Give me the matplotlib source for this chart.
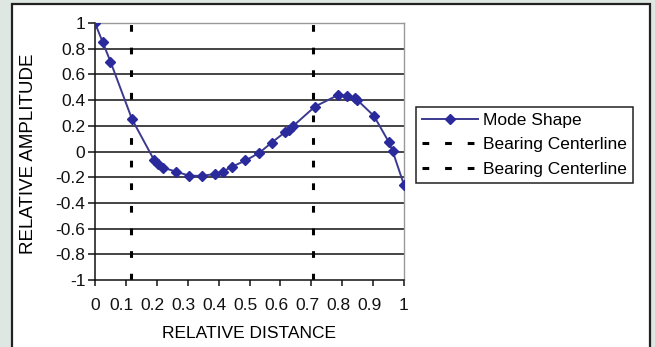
import matplotlib.pyplot as plt
from matplotlib.patches import Rectangle
from matplotlib.transforms import ScaledTranslation

plt.rcParams["font.family"] = ["Liberation Sans", "DejaVu Sans"]

# mode shape
distance = [0.0, 0.025, 0.05, 0.12, 0.192, 0.205, 0.22, 0.262, 0.305, 0.345,
            0.388, 0.413, 0.442, 0.487, 0.532, 0.572, 0.615, 0.628, 0.642,
            0.712, 0.787, 0.815, 0.841, 0.849, 0.903, 0.95, 0.963, 1.0]
amplitude = [1.0, 0.85, 0.70, 0.25, -0.07, -0.10, -0.125, -0.157, -0.188,
             -0.19, -0.175, -0.157, -0.12, -0.07, -0.01, 0.07, 0.15, 0.17,
             0.20, 0.35, 0.44, 0.435, 0.414, 0.40, 0.276, 0.077, 0.004, -0.26]
bearings = [0.118, 0.706]

x_ticks = [i / 10 for i in range(11)]
x_labels = ["0", "0.1", "0.2", "0.3", "0.4", "0.5", "0.6", "0.7", "0.8", "0.9", "1"]
y_ticks = [-1, -0.8, -0.6, -0.4, -0.2, 0, 0.2, 0.4, 0.6, 0.8, 1]
y_labels = ["-1", "-0.8", "-0.6", "-0.4", "-0.2", "0", "0.2", "0.4", "0.6", "0.8", "1"]

W, H = 655, 347
fig = plt.figure(figsize=(W / 100, H / 100), dpi=100)
fig.patch.set_facecolor("#dfe7e3")

# white framed panel behind the axes
fig.patches.append(Rectangle((12 / W, -0.05), (650 - 12) / W, 1.05 - 4 / H,
                             transform=fig.transFigure, facecolor="white",
                             edgecolor="#222222", lw=1.6, zorder=-10))

ax = fig.add_axes([95 / W, 1 - 280 / H, (404 - 95) / W, (280 - 23) / H])
ax.set_facecolor("white")

for y in y_ticks[1:]:
    ax.axhline(y, color="#111111", lw=1.1, zorder=1)

dash = (0, (2.2, 5.2))
for b in bearings:
    ax.plot([b, b], [-1, 1], color="black", lw=2.2, linestyle=dash, zorder=2,
            label="Bearing Centerline")

ax.plot(distance, amplitude, color="#3c3a8f", lw=1.4, marker="D",
        markersize=5.5, markerfacecolor="#2a2a9c", markeredgecolor="#2a2a9c",
        zorder=3, label="Mode Shape")

ax.set_xlim(0, 1)
ax.set_ylim(-1, 1)
ax.set_xticks(x_ticks)
ax.set_xticklabels(x_labels)
ax.set_yticks(y_ticks)
ax.set_yticklabels(y_labels)
ax.tick_params(axis="both", labelsize=12.5, length=5, width=1.1,
               direction="out", colors="#111111")
ax.tick_params(axis="x", pad=9, length=4)
ax.tick_params(axis="y", pad=2)

# the inner x labels sit a touch left of their ticks in the original
shift = ScaledTranslation(-4 / 100, 0, fig.dpi_scale_trans)
for lab in ax.get_xticklabels()[1:-1]:
    lab.set_transform(lab.get_transform() + shift)

for side in ("left", "bottom"):
    ax.spines[side].set_color("#111111")
    ax.spines[side].set_linewidth(1.1)
for side in ("top", "right"):
    ax.spines[side].set_color("#999999")
    ax.spines[side].set_linewidth(1.0)

ax.set_xlabel("RELATIVE DISTANCE", fontsize=12.5)
ax.xaxis.set_label_coords(0.5, (280 - 326) / 257)
ax.set_ylabel("RELATIVE AMPLITUDE", fontsize=13.5)
ax.yaxis.set_label_coords((37 - 95) / 309, 0.49)

handles, labels = ax.get_legend_handles_labels()
order = [2, 0, 1]
leg = fig.legend([handles[i] for i in order], [labels[i] for i in order],
                 loc="upper left", bbox_to_anchor=(416 / W, 1 - 107 / H),
                 bbox_transform=fig.transFigure, fancybox=False,
                 framealpha=1, edgecolor="#222222", fontsize=12.5,
                 handlelength=3.2, handletextpad=0.3, borderpad=0.35,
                 labelspacing=0.52, borderaxespad=0)
leg.get_frame().set_linewidth(1.1)

fig.savefig("out.png", dpi=100)
